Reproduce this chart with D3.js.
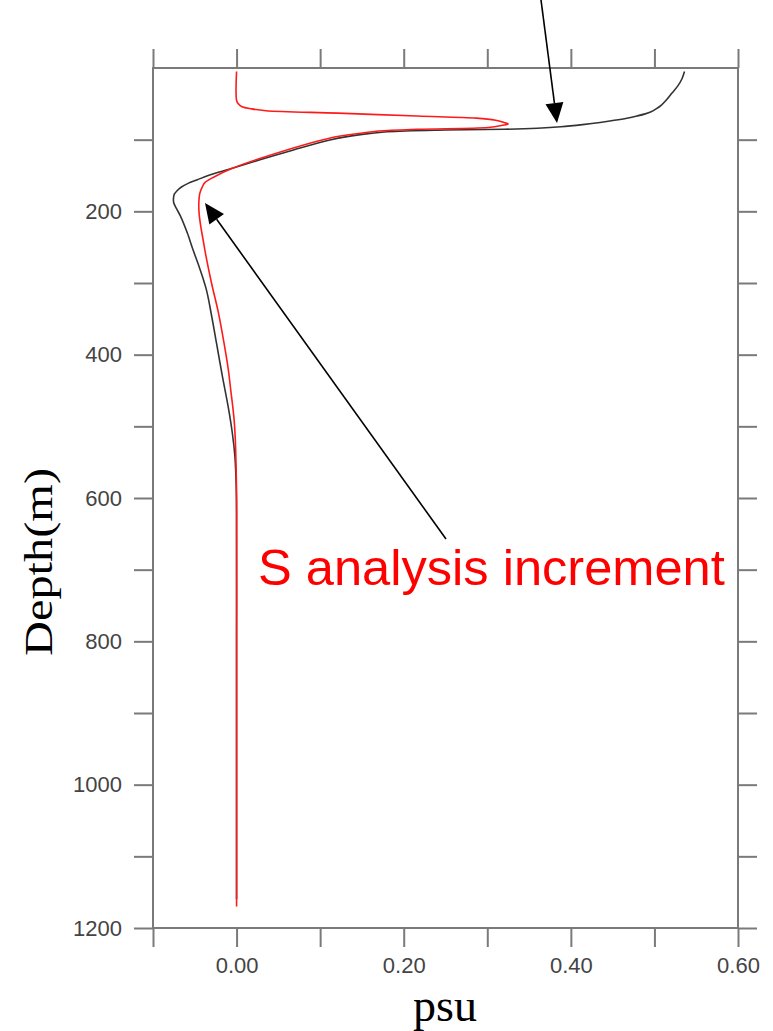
<!DOCTYPE html>
<html><head><meta charset="utf-8">
<script src="https://cdn.jsdelivr.net/npm/d3@7/dist/d3.min.js"></script>
<style>body{margin:0;background:#fff;}svg{display:block;}</style>
</head><body>
<svg id="c" width="773" height="1031"></svg>
<script>
// Black profile (depth in m, value in psu)
const blackDepth = [5,15,25,35,45,52,57,61,64,67,70,73,76,79,82,84,85.5,86.5,89,93,100,115,128,140,150,156,161,166,171,176,182,188,196,207,230,254,280,310,345,384,430,473,510,542,580,620,800,1000,1160];
const blackValue = [0.536,0.533,0.528,0.521,0.514,0.508,0.502,0.496,0.489,0.479,0.467,0.452,0.435,0.414,0.388,0.360,0.320,0.250,0.180,0.148,0.113,0.066,0.028,-0.005,-0.034,-0.047,-0.058,-0.066,-0.071,-0.0745,-0.0755,-0.0752,-0.072,-0.067,-0.059,-0.052,-0.044,-0.036,-0.030,-0.024,-0.017,-0.010,-0.005,-0.002,-0.0005,0.000,0.000,0.000,0.000];
// Red profile: S analysis increment
const redDepth = [5,45,50,54,57,59.6,63,67,70,73,76,78,80,83,85.5,88,91,98,127,140,152,160,166,175,184,200,220,240,260,300,340,384,420,449,490,519,560,600,800,1000,1170];
const redValue = [0.000,0.000,0.002,0.0065,0.018,0.035,0.121,0.216,0.287,0.310,0.320,0.325,0.318,0.301,0.216,0.170,0.149,0.111,0.026,-0.005,-0.027,-0.038,-0.041,-0.044,-0.045,-0.045,-0.043,-0.040,-0.037,-0.030,-0.022,-0.015,-0.010,-0.007,-0.003,-0.0015,-0.0005,0.000,0.000,0.000,0.000];
const xTicks = [-0.1,0,0.1,0.2,0.3,0.4,0.5,0.6];
const xLabels = [0,0.2,0.4,0.6];
const yTicks = [100,200,300,400,500,600,700,800,900,1000,1100,1200];
const yLabels = [200,400,600,800,1000,1200];
const xDomain = [-0.1,0.6];
const yDomain = [0,1200];

const svg = d3.select("#c");
const L=153,R=738,T=68,B=928;
const x = d3.scaleLinear().domain(xDomain).range([L,R]);
const y = d3.scaleLinear().domain(yDomain).range([T,B]);
const axisColor="#7a7a7a", labelColor="#444";
const tl=19;
const fmtX = d => xLabels.some(v=>Math.abs(v-d)<1e-9) ? d3.format(".2f")(d) : "";
const fmtY = d => yLabels.includes(d) ? d : "";

function style(g){
  g.select(".domain").remove();
  g.selectAll(".tick line").attr("stroke",axisColor).attr("stroke-width",2);
  g.selectAll(".tick text").attr("fill",labelColor).attr("font-family","Liberation Sans, Arial, sans-serif").attr("font-size",22);
}
svg.append("g").attr("transform",`translate(0,${B})`).call(d3.axisBottom(x).tickValues(xTicks).tickSize(tl).tickPadding(10).tickFormat(fmtX)).call(style);
svg.append("g").attr("transform",`translate(0,${T})`).call(d3.axisTop(x).tickValues(xTicks).tickSize(tl).tickFormat("")).call(style);
svg.append("g").attr("transform",`translate(${L},0)`).call(d3.axisLeft(y).tickValues(yTicks).tickSize(tl).tickPadding(12).tickFormat(fmtY)).call(style);
svg.append("g").attr("transform",`translate(${R},0)`).call(d3.axisRight(y).tickValues(yTicks).tickSize(tl).tickFormat("")).call(style);
svg.append("rect").attr("x",L).attr("y",T).attr("width",R-L).attr("height",B-T).attr("fill","none").attr("stroke",axisColor).attr("stroke-width",2);

const line = d3.line().x(d=>x(d[1])).y(d=>y(d[0])).curve(d3.curveCatmullRom.alpha(0.5));
svg.append("path").datum(blackDepth.map((d,i)=>[d,blackValue[i]])).attr("d",line).attr("fill","none").attr("stroke","#333").attr("stroke-width",1.6);
svg.append("path").datum(redDepth.map((d,i)=>[d,redValue[i]])).attr("d",line).attr("fill","none").attr("stroke","#ff1a1a").attr("stroke-width",1.6);

// arrows
function arrow(x1,y1,x2,y2){
  const a=Math.atan2(y2-y1,x2-x1), len=20, w=9;
  const bx=x2-len*Math.cos(a), by=y2-len*Math.sin(a);
  svg.append("line").attr("x1",x1).attr("y1",y1).attr("x2",bx).attr("y2",by).attr("stroke","#000").attr("stroke-width",1.6);
  const px=-Math.sin(a), py=Math.cos(a);
  svg.append("path").attr("d",`M${x2},${y2}L${bx+px*w},${by+py*w}L${bx-px*w},${by-py*w}Z`).attr("fill","#000");
}
arrow(541,0,557,123);
arrow(446,539,205,203);

svg.append("text").attr("x",258).attr("y",585).attr("fill","#ff0000").attr("font-family","Liberation Sans, Arial, sans-serif").attr("font-size",50.6).text("S analysis increment");
svg.append("text").attr("x",445).attr("y",1021).attr("text-anchor","middle").attr("fill","#000").attr("font-family","Liberation Serif, Times New Roman, serif").attr("font-size",46).text("psu");
svg.append("text").attr("transform","translate(52,562) rotate(-90)").attr("text-anchor","middle").attr("fill","#000").attr("font-family","Liberation Serif, Times New Roman, serif").attr("font-size",40).attr("textLength",188).attr("lengthAdjust","spacingAndGlyphs").text("Depth(m)");
</script>
</body></html>
